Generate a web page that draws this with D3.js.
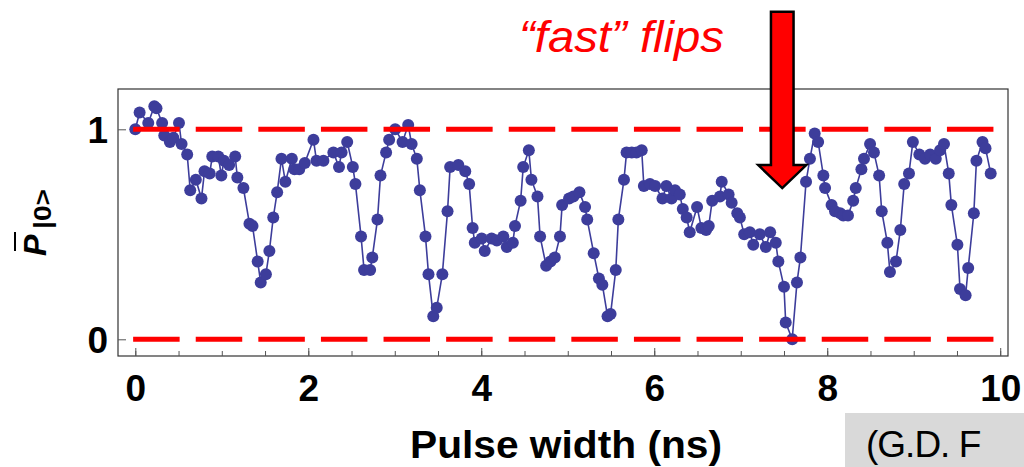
<!DOCTYPE html>
<html>
<head>
<meta charset="utf-8">
<script src="https://cdn.jsdelivr.net/npm/d3@7"></script>
<style>
    body { margin: 0; background: #fff; }
    svg { display: block; font-family: "Liberation Sans", Arial, sans-serif; }
</style>
</head>
<body>
<svg id="chart" width="1024" height="467"></svg>
<script>
// pulse width (ns) and averaged P|0>
var pulseWidth = [
    0, 0.05, 0.15, 0.22, 0.245, 0.31, 0.335, 0.40, 0.44, 0.505,
    0.535, 0.60, 0.635, 0.70, 0.765, 0.80, 0.86, 0.89, 0.96, 0.995,
    1.025, 1.085, 1.155, 1.18, 1.25, 1.32, 1.355, 1.415, 1.45, 1.51,
    1.55, 1.595, 1.64, 1.69, 1.735, 1.81, 1.84, 1.895, 1.96, 2.06,
    2.095, 2.175, 2.29, 2.355, 2.385, 2.45, 2.515, 2.545, 2.61, 2.645,
    2.715, 2.74, 2.80, 2.835, 2.90, 2.935, 3.005, 3.09, 3.155, 3.195,
    3.255, 3.29, 3.355, 3.39, 3.445, 3.485, 3.55, 3.61, 3.64, 3.735,
    3.815, 3.86, 3.90, 3.925, 4.005, 4.04, 4.12, 4.18, 4.255, 4.295,
    4.365, 4.39, 4.455, 4.485, 4.55, 4.58, 4.65, 4.68, 4.75, 4.80,
    4.85, 4.91, 4.935, 5.015, 5.065, 5.135, 5.20, 5.225, 5.30, 5.36,
    5.40, 5.46, 5.495, 5.555, 5.585, 5.65, 5.68, 5.74, 5.795, 5.855,
    5.88, 5.95, 6.01, 6.095, 6.14, 6.20, 6.24, 6.295, 6.33, 6.375,
    6.41, 6.495, 6.545, 6.60, 6.63, 6.67, 6.76, 6.78, 6.86, 6.895,
    6.96, 6.99, 7.04, 7.105, 7.145, 7.22, 7.29, 7.34, 7.405, 7.435,
    7.50, 7.52, 7.595, 7.65, 7.69, 7.755, 7.80, 7.855, 7.895, 7.955,
    7.975, 8.05, 8.09, 8.15, 8.185, 8.24, 8.30, 8.33, 8.395, 8.425,
    8.495, 8.54, 8.60, 8.63, 8.695, 8.725, 8.795, 8.845, 8.89, 8.945,
    8.99, 9.065, 9.13, 9.19, 9.255, 9.305, 9.35, 9.405, 9.435, 9.505,
    9.535, 9.60, 9.63, 9.695, 9.725, 9.795, 9.83, 9.89
];
var p0 = [
    1.00, 1.08, 1.03, 1.11, 1.10, 1.03, 0.97, 0.94, 0.96, 1.03,
    0.93, 0.88, 0.71, 0.76, 0.67, 0.80, 0.79, 0.87, 0.87, 0.78,
    0.85, 0.83, 0.87, 0.77, 0.72, 0.55, 0.54, 0.37, 0.27, 0.31,
    0.42, 0.58, 0.70, 0.86, 0.75, 0.86, 0.81, 0.81, 0.84, 0.95,
    0.85, 0.85, 0.89, 0.82, 0.89, 0.94, 0.82, 0.74, 0.49, 0.33,
    0.33, 0.39, 0.57, 0.78, 0.89, 0.95, 1.00, 0.94, 1.02, 0.93,
    0.86, 0.71, 0.49, 0.31, 0.11, 0.15, 0.31, 0.61, 0.82, 0.83,
    0.80, 0.74, 0.53, 0.46, 0.48, 0.42, 0.48, 0.47, 0.49, 0.44,
    0.46, 0.54, 0.66, 0.82, 0.90, 0.76, 0.68, 0.49, 0.35, 0.37,
    0.39, 0.49, 0.64, 0.67, 0.68, 0.70, 0.63, 0.57, 0.41, 0.29,
    0.26, 0.11, 0.12, 0.33, 0.57, 0.76, 0.89, 0.89, 0.89, 0.90,
    0.73, 0.74, 0.73, 0.67, 0.73, 0.67, 0.71, 0.69, 0.62, 0.58,
    0.51, 0.63, 0.53, 0.52, 0.54, 0.66, 0.68, 0.75, 0.69, 0.65,
    0.60, 0.58, 0.50, 0.51, 0.45, 0.50, 0.44, 0.51, 0.46, 0.37,
    0.25, 0.08, 0.00, 0.27, 0.39, 0.75, 0.86, 0.98, 0.94, 0.78,
    0.72, 0.64, 0.61, 0.60, 0.59, 0.59, 0.66, 0.72, 0.81, 0.86,
    0.93, 0.89, 0.78, 0.61, 0.46, 0.32, 0.37, 0.52, 0.74, 0.79,
    0.94, 0.88, 0.86, 0.88, 0.86, 0.90, 0.93, 0.79, 0.64, 0.45,
    0.24, 0.21, 0.34, 0.60, 0.85, 0.94, 0.91, 0.79
];
var xTicks = [0, 2, 4, 6, 8, 10];
var xMinorTicks = [0, 0.5, 1, 1.5, 2, 2.5, 3, 3.5, 4, 4.5, 5, 5.5, 6, 6.5, 7, 7.5, 8, 8.5, 9, 9.5, 10];
var yTicks = [0, 1];
var guideLevels = [0, 1];
// arrow pointing at the fast flip near 7.5 ns
var flipArrow = {x: 7.48, tip: 0.72, top: 1.56};

var dataset = [];
for (var i = 0; i < pulseWidth.length; i++) {
    dataset.push([pulseWidth[i], p0[i]]);
}

var svg = d3.select('#chart');
var frame = {left: 118, right: 1008, top: 89, bottom: 356};
var dotColor = '#3d3d9b';

var xScale = d3.scaleLinear()
    .domain([-0.2, 10.09])
    .range([frame.left, frame.right]);
var yScale = d3.scaleLinear()
    .domain([-0.0795, 1.1919])
    .range([frame.bottom, frame.top]);

// 坐标框
svg.append('rect')
    .attr('x', frame.left)
    .attr('y', frame.top)
    .attr('width', frame.right - frame.left)
    .attr('height', frame.bottom - frame.top)
    .attr('fill', 'none')
    .attr('stroke', '#333')
    .attr('stroke-width', 1.2);

// minor ticks along the bottom
svg.append('g')
    .attr('transform', 'translate(0,' + frame.bottom + ')')
    .call(d3.axisBottom(xScale).tickValues(xMinorTicks).tickSize(-5).tickFormat(''))
    .call(function (g) { g.select('.domain').remove(); })
    .selectAll('line').attr('stroke', '#555');

var xAxis = svg.append('g')
    .attr('transform', 'translate(0,' + frame.bottom + ')')
    .call(d3.axisBottom(xScale).tickValues(xTicks).tickSize(-8).tickFormat(d3.format('d')));
xAxis.select('.domain').remove();
xAxis.selectAll('line').attr('stroke', '#555');
xAxis.selectAll('text')
    .attr('y', 45)
    .attr('dy', null)
    .attr('fill', '#000')
    .style('font-size', '37px')
    .style('font-weight', 'bold')
    .style('font-family', '"Liberation Sans", Arial, sans-serif');

var yAxis = svg.append('g')
    .attr('transform', 'translate(' + frame.left + ',0)')
    .call(d3.axisLeft(yScale).tickValues(yTicks).tickSize(-8).tickFormat(d3.format('d')));
yAxis.select('.domain').remove();
yAxis.selectAll('line').attr('stroke', '#555');
yAxis.selectAll('text')
    .attr('x', -10)
    .attr('dy', '0.36em')
    .attr('fill', '#000')
    .style('font-size', '37px')
    .style('font-weight', 'bold')
    .style('font-family', '"Liberation Sans", Arial, sans-serif');

// data line + points
var linePath = d3.line()
    .x(function (d) { return xScale(d[0]); })
    .y(function (d) { return yScale(d[1]); });
svg.append('path')
    .attr('d', linePath(dataset))
    .attr('fill', 'none')
    .attr('stroke', dotColor)
    .attr('stroke-width', 1.6);
svg.append('g')
    .selectAll('circle')
    .data(dataset)
    .enter()
    .append('circle')
    .attr('cx', function (d) { return xScale(d[0]); })
    .attr('cy', function (d) { return yScale(d[1]); })
    .attr('r', 6)
    .attr('fill', dotColor);

// red dashed guides at 0 and 1
svg.append('g')
    .selectAll('line')
    .data(guideLevels)
    .enter()
    .append('line')
    .attr('x1', xScale(-0.025))
    .attr('x2', xScale(10))
    .attr('y1', function (d) { return yScale(d); })
    .attr('y2', function (d) { return yScale(d); })
    .attr('stroke', '#ff0000')
    .attr('stroke-width', 5)
    .attr('stroke-dasharray', '46.5,16.1');

// arrow
var ax = xScale(flipArrow.x), tipY = yScale(flipArrow.tip), topY = yScale(flipArrow.top);
var shaftW = 11.3, headW = 24, headL = 23;
var arrowPts = [
    [ax - shaftW, topY], [ax + shaftW, topY], [ax + shaftW, tipY - headL],
    [ax + headW, tipY - headL], [ax, tipY], [ax - headW, tipY - headL],
    [ax - shaftW, tipY - headL]
];
svg.append('path')
    .attr('d', d3.line()(arrowPts) + 'Z')
    .attr('fill', '#ff0000')
    .attr('stroke', '#000')
    .attr('stroke-width', 2.5);

svg.append('text')
    .attr('x', 519)
    .attr('y', 52)
    .attr('textLength', 205)
    .attr('lengthAdjust', 'spacingAndGlyphs')
    .attr('fill', '#ff0000')
    .style('font-size', '45px')
    .style('font-style', 'italic')
    .text('\u201cfast\u201d flips');

// axis titles
svg.append('text')
    .attr('x', 410)
    .attr('y', 458)
    .attr('textLength', 312)
    .attr('lengthAdjust', 'spacingAndGlyphs')
    .style('font-size', '38px')
    .style('font-weight', 'bold')
    .text('Pulse width (ns)');

var yTitle = svg.append('g')
    .attr('transform', 'translate(46,256) rotate(-90)');
yTitle.append('text')
    .attr('x', 0)
    .attr('y', 0)
    .style('font-size', '32px')
    .style('font-weight', 'bold')
    .style('font-style', 'italic')
    .text('P');
yTitle.append('text')
    .attr('x', 27)
    .attr('y', 5)
    .attr('textLength', 40)
    .attr('lengthAdjust', 'spacingAndGlyphs')
    .style('font-size', '24px')
    .style('font-weight', 'bold')
    .text('|0>');
yTitle.append('line')
    .attr('x1', 5).attr('x2', 24)
    .attr('y1', -31).attr('y2', -31)
    .attr('stroke', '#000')
    .attr('stroke-width', 2);

// grey citation box in the corner
svg.append('rect')
    .attr('x', 845)
    .attr('y', 413)
    .attr('width', 179)
    .attr('height', 54)
    .attr('fill', '#d9d9d9');
svg.append('text')
    .attr('x', 866)
    .attr('y', 457)
    .style('font-size', '37px')
    .style('letter-spacing', '-1px')
    .text('(G.D. F');
</script>
</body>
</html>
